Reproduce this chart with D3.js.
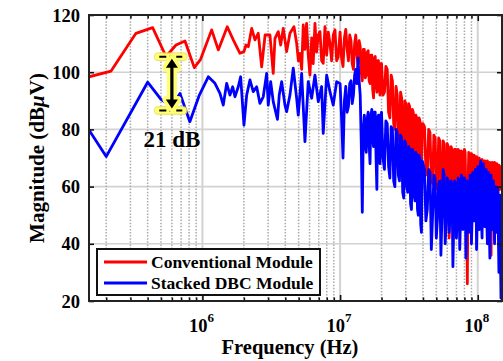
<!DOCTYPE html>
<html>
<head>
<meta charset="utf-8">
<script src="https://cdn.jsdelivr.net/npm/d3@7"></script>
<style>
  body { margin: 0; background: #fff; }
  svg { display: block; font-family: "Liberation Serif", "Times New Roman", serif; font-weight: bold; }
</style>
</head>
<body>
<svg id="chart" width="503" height="361"></svg>
<script>
// frequencies in MHz, magnitudes in dBuV
const redFreqLow = [0.15, 0.217, 0.329, 0.435, 0.544, 0.643, 0.747, 0.873, 0.97, 1.167, 1.304, 1.515, 1.675, 1.874,
  2.003, 2.072, 2.153, 2.279, 2.408, 2.544, 2.693, 2.853, 3.094, 3.269, 3.364, 3.555, 3.701, 3.865, 4.09, 4.323,
  4.622, 4.836, 4.98, 5.11, 5.26, 5.40, 5.555, 5.71, 5.87, 6.04, 6.22, 6.38, 6.57, 6.75, 6.94, 7.14, 7.345, 7.54,
  7.76, 7.99, 8.21, 8.44, 8.68, 8.92, 9.18, 9.44, 9.69];
const redDbLow = [98.4, 100.4, 113.6, 115.6, 105.5, 109.5, 110.9, 101.6, 104.5, 114.8, 107.8, 115.9, 111.3, 106.6,
  107.2, 109.5, 108.9, 115.3, 111.3, 113.6, 101.9, 113, 113, 99.6, 111.8, 114.2, 109.5, 115.3, 107.2, 113.6,
  115.9, 110.1, 104, 106.6, 101, 116.5, 108, 117.1, 106, 99, 112, 103, 117.1, 107, 113, 114.2, 104, 103.1,
  115.9, 106, 114, 110.1, 104, 113, 114.8, 104, 105.4];

const blueFreqLow = [0.15, 0.2, 0.4, 0.5, 0.6, 0.687, 0.81, 0.95, 1.103, 1.233, 1.341, 1.417, 1.5, 1.585, 1.659,
  1.723, 1.821, 1.895, 2.003, 2.096, 2.214, 2.34, 2.477, 2.617, 2.766, 2.928, 3.008, 3.131, 3.269, 3.508, 3.614,
  3.763, 3.977, 4.09, 4.323, 4.569, 4.836, 4.967, 5.258, 5.555, 5.871, 6.215, 6.569, 6.94, 7.345, 7.543, 7.988,
  8.44, 8.917, 9.44];
const blueDbLow = [79.8, 70.5, 96.5, 90.5, 88, 92.6, 82.7, 92, 98.4, 96.1, 92.6, 88.5, 96.1, 92, 94.9,
  91.4, 94.9, 98.4, 81.5, 92, 97.3, 93.2, 94.9, 89.1, 91.4, 99.6, 88.5, 96.7, 89.7, 83.5, 92,
  96.7, 88.5, 86.2, 92, 101.4, 90.9, 85, 99.6, 75.7, 96.7, 90.9, 99, 89.7, 95, 78.6, 99,
  93.2, 88.5, 96.7];

const hfFreq = [10, 10.25, 10.5, 10.75, 11, 11.25, 11.5, 11.75, 12, 12.25, 12.5, 12.75, 13, 13.25, 13.5, 13.75,
  14, 14.25, 14.5, 14.75, 15, 15.25, 15.5, 15.75, 16, 16.25, 16.5, 16.75, 17, 17.25, 17.5, 17.75, 18, 18.25,
  18.5, 18.75, 19, 19.25, 19.5, 19.75, 20,
  20.5, 21, 21.5, 22, 22.5, 23, 23.5, 24, 24.5, 25, 25.5, 26, 26.5, 27, 27.5, 28, 28.5, 29, 29.5, 30,
  30.5, 31, 31.5, 32, 32.5, 33, 33.5, 34, 34.5, 35, 35.5, 36, 36.5, 37, 37.5, 38, 38.5, 39, 39.5, 40,
  41, 42, 43, 44, 45, 46, 47, 48, 49, 50, 51, 52, 53, 54, 55, 56, 57, 58, 59, 60,
  61, 62, 63, 64, 65, 66, 67, 68, 69, 70, 71, 72, 73, 74, 75, 76, 77, 78, 79, 80,
  81, 82, 83, 84, 85, 86, 87, 88, 89, 90, 91, 92, 93, 94, 95, 96, 97, 98, 99, 100,
  101.25, 102.5, 103.75, 105, 106.25, 107.5, 108.75, 110, 111.25, 112.5, 113.75, 115, 116.25, 117.5, 118.75, 120,
  121.25, 122.5, 123.75, 125, 126.25, 127.5, 128.75, 130, 131.25, 132.5, 133.75, 135, 136.25, 137.5, 138.75, 140,
  141.25, 142.5, 143.75, 145, 146.25, 147.5, 148.75, 150];
const redDbHf = [114, 105, 102, 112, 115, 108, 104, 113, 111, 103, 101, 110, 113, 106, 103, 111,
  109, 100, 97, 108, 108, 98, 99, 107, 107.5, 97, 96, 106, 106, 94, 91, 105, 105.5, 96,
  93, 104, 104, 95, 92, 103, 103,
  92, 93, 102, 101, 86, 84, 99, 97, 82, 80, 95, 92, 78, 76, 93, 91, 75, 74, 90, 89,
  73, 72, 89, 88, 71, 70, 87, 86, 69, 68, 85, 84, 67, 67, 84, 83, 65, 64, 82, 82,
  81, 66, 64, 80, 79, 62, 61, 78, 77, 60, 59, 77, 76, 58, 57, 76, 75, 55, 56, 75,
  74, 42, 55, 74, 73, 52, 56, 73, 73, 55, 54, 73, 72.5, 53, 55, 72.5, 72, 50, 56, 73,
  72, 56, 55, 26, 60, 72, 71.5, 54, 57, 71.5, 71, 56, 58, 71, 70.5, 55, 58, 70.5, 70, 57,
  69, 70, 56, 56, 69, 69.5, 58, 58, 69, 69, 55, 55, 68, 69, 50, 44,
  67, 68.5, 48, 36, 66, 68.5, 57, 57, 67, 68.5, 58, 58, 67, 68, 56, 56,
  66, 67.5, 59, 59, 66, 67, 61, 62];
const blueDbHf = [96, 84, 70, 90, 95, 86, 88, 96, 97, 89, 92, 99, 101, 96, 105, 97,
  92, 75, 51, 80, 85, 74, 72, 84, 86, 75, 68, 85, 87, 77, 74, 86, 86, 70,
  59, 84, 85, 73, 68, 85, 86,
  70, 66, 83, 82, 67, 63, 81, 80, 62, 60, 80, 79, 64, 62, 78, 77, 58, 56, 76, 75,
  60, 58, 74, 73, 54, 52, 73, 72, 57, 55, 72, 71, 52, 50, 71, 70, 47, 44, 69, 68,
  66, 48, 52, 66, 65, 38, 50, 64, 63, 42, 49, 61, 62, 36, 50, 66, 64, 40, 48, 63,
  62, 44, 50, 62, 61, 32, 48, 62, 61, 42, 50, 63, 62, 38, 49, 64, 63, 45, 51, 63,
  62, 35, 48, 62, 61, 44, 50, 64, 63, 40, 49, 65, 64, 48, 52, 66, 65, 38, 50, 67,
  52, 45, 66, 69, 50, 42, 67, 68, 52, 46, 65, 66, 48, 40, 64, 65,
  45, 35, 63, 64, 50, 45, 61, 62, 48, 40, 60, 60, 50, 44, 58, 59,
  42, 30, 56, 57, 35, 21, 48, 50];

const yTicks = [20, 40, 60, 80, 100, 120];
const xMajor = [1e6, 1e7, 1e8];
const seriesNames = ["Conventional Module", "Stacked DBC Module"];
const seriesColors = ["#ff0000", "#0000ff"];
const gapLabel = "21 dB";
const gapFreq = [0.478, 0.726, 0.6]; // dashed markers start/end, arrow position (MHz)
const gapDb = [105.4, 86.6];

const svg = d3.select("#chart");
const x = d3.scaleLog().domain([1.5e5, 1.5e8]).range([89, 502]);
const y = d3.scaleLinear().domain([20, 120]).range([301, 15]);
const [x0, x1] = x.range();
const [y0, y1] = y.range();

const xMinor = [];
[1e5, 1e6, 1e7, 1e8].forEach(d => {
  for (let k = 2; k <= 9; k++) {
    const v = k * d;
    if (v > 1.5e5 && v < 1.5e8) xMinor.push(v);
  }
});

svg.append("defs").append("clipPath").attr("id", "plot")
  .append("rect").attr("x", x0).attr("y", y1).attr("width", x1 - x0).attr("height", y0 - y1);

// grid
const grid = svg.append("g");
grid.selectAll(".ym").data(yTicks.filter(v => v > 20 && v < 120)).join("line")
  .attr("x1", x0).attr("x2", x1).attr("y1", d => y(d)).attr("y2", d => y(d))
  .attr("stroke", "#d2d2d2").attr("stroke-width", 1.6);
grid.selectAll(".xn").data(xMinor).join("line")
  .attr("x1", d => x(d)).attr("x2", d => x(d)).attr("y1", y1).attr("y2", y0)
  .attr("stroke", "#a9a9a9").attr("stroke-width", 1.5).attr("stroke-dasharray", "1.5,1.6");
grid.selectAll(".xm").data(xMajor).join("line")
  .attr("x1", d => x(d)).attr("x2", d => x(d)).attr("y1", y1).attr("y2", y0)
  .attr("stroke", "#d2d2d2").attr("stroke-width", 2);

// data
const toPts = (f, v) => f.map((d, i) => ({ f: d * 1e6, v: v[i] }));
const red = toPts(redFreqLow.concat(hfFreq), redDbLow.concat(redDbHf));
const blue = toPts(blueFreqLow.concat(hfFreq), blueDbLow.concat(blueDbHf));
const line = d3.line().x(d => x(d.f)).y(d => y(d.v));

const plot = svg.append("g").attr("clip-path", "url(#plot)");
[red, blue].forEach((s, i) => {
  plot.append("path").attr("d", line(s)).attr("fill", "none")
    .attr("stroke", seriesColors[i]).attr("stroke-width", 2.8).attr("stroke-linejoin", "round");
});

// axes with inward ticks
const noLabel = () => "";
const styleAxis = g => {
  g.select(".domain").remove();
  g.selectAll("line").attr("stroke", "#111").attr("stroke-width", 1.6);
};
svg.append("g").attr("transform", `translate(${x0},0)`)
  .call(d3.axisLeft(y).tickValues(yTicks).tickSize(-5).tickFormat(noLabel)).call(styleAxis);
svg.append("g").attr("transform", `translate(${x1},0)`)
  .call(d3.axisRight(y).tickValues(yTicks).tickSize(-5).tickFormat(noLabel)).call(styleAxis);
svg.append("g").attr("transform", `translate(0,${y0})`)
  .call(d3.axisBottom(x).tickValues(xMajor).tickSize(-6).tickFormat(noLabel)).call(styleAxis);
svg.append("g").attr("transform", `translate(0,${y0})`)
  .call(d3.axisBottom(x).tickValues(xMinor).tickSize(-3.5).tickFormat(noLabel)).call(styleAxis);
svg.append("g").attr("transform", `translate(0,${y1})`)
  .call(d3.axisTop(x).tickValues(xMajor).tickSize(-6).tickFormat(noLabel)).call(styleAxis);
svg.append("g").attr("transform", `translate(0,${y1})`)
  .call(d3.axisTop(x).tickValues(xMinor).tickSize(-3.5).tickFormat(noLabel)).call(styleAxis);

svg.append("rect").attr("x", x0).attr("y", y1).attr("width", x1 - x0).attr("height", y0 - y1)
  .attr("fill", "none").attr("stroke", "#222").attr("stroke-width", 2);

// tick labels
svg.append("g").selectAll("text").data(yTicks).join("text")
  .attr("x", 80).attr("y", d => y(d)).attr("dy", "0.36em")
  .attr("text-anchor", "end").attr("font-size", 18.5).text(d => d);

const xl = svg.append("g").selectAll("text").data(xMajor).join("text")
  .attr("x", d => x(d) - 1).attr("y", 332).attr("text-anchor", "middle").attr("font-size", 18.5);
xl.append("tspan").text("10");
xl.append("tspan").attr("dy", -10).attr("font-size", 13).text(d => Math.round(Math.log10(d)));

// axis titles
const yt = svg.append("text").attr("transform", "translate(44,158) rotate(-90)")
  .attr("text-anchor", "middle").attr("font-size", 21);
yt.append("tspan").text("Magnitude (dB");
yt.append("tspan").attr("font-style", "italic").text("\u03bc");
yt.append("tspan").text("V)");
svg.append("text").attr("x", 290).attr("y", 354).attr("text-anchor", "middle")
  .attr("font-size", 20.5).text("Frequency (Hz)");

// legend
const lg = svg.append("g");
lg.append("rect").attr("x", 97).attr("y", 249).attr("width", 223).attr("height", 46)
  .attr("fill", "#fff").attr("stroke", "#111").attr("stroke-width", 2);
seriesNames.forEach((n, i) => {
  const ly = 262 + i * 21;
  lg.append("line").attr("x1", 104).attr("x2", 147).attr("y1", ly).attr("y2", ly)
    .attr("stroke", seriesColors[i]).attr("stroke-width", 3);
  lg.append("text").attr("x", 151).attr("y", ly + 6).attr("font-size", 17.5).text(n);
});

// 21 dB annotation
const ann = svg.append("g");
const ax = x(gapFreq[2] * 1e6);
const yTop = y(gapDb[0]), yBot = y(gapDb[1]);
gapDb.forEach(v => {
  ann.append("line").attr("x1", x(gapFreq[0] * 1e6)).attr("x2", x(gapFreq[1] * 1e6))
    .attr("y1", y(v)).attr("y2", y(v)).attr("stroke", "#e8df50").attr("stroke-width", 9)
    .attr("stroke-linecap", "round").attr("opacity", 0.75);
  ann.append("line").attr("x1", x(gapFreq[0] * 1e6)).attr("x2", x(gapFreq[1] * 1e6))
    .attr("y1", y(v)).attr("y2", y(v)).attr("stroke", "#ffff70").attr("stroke-width", 6.5)
    .attr("stroke-linecap", "round");
  ann.append("line").attr("x1", x(gapFreq[0] * 1e6) + 1).attr("x2", x(gapFreq[1] * 1e6) - 1)
    .attr("y1", y(v)).attr("y2", y(v)).attr("stroke", "#000").attr("stroke-width", 2.2)
    .attr("stroke-dasharray", "7,3,4,3");
});
const arrow = d3.path();
arrow.moveTo(ax, yTop + 2);
arrow.lineTo(ax + 6, yTop + 11);
arrow.lineTo(ax + 1.6, yTop + 11);
arrow.lineTo(ax + 1.6, yBot - 11);
arrow.lineTo(ax + 6, yBot - 11);
arrow.lineTo(ax, yBot - 2);
arrow.lineTo(ax - 6, yBot - 11);
arrow.lineTo(ax - 1.6, yBot - 11);
arrow.lineTo(ax - 1.6, yTop + 11);
arrow.lineTo(ax - 6, yTop + 11);
arrow.closePath();
ann.append("path").attr("d", arrow.toString()).attr("fill", "#ffff70")
  .attr("stroke", "#ffff70").attr("stroke-width", 7).attr("stroke-linejoin", "round");
ann.append("path").attr("d", arrow.toString()).attr("fill", "#000");
ann.append("text").attr("x", ax).attr("y", 147).attr("text-anchor", "middle")
  .attr("font-size", 23).text(gapLabel);
</script>
</body>
</html>
